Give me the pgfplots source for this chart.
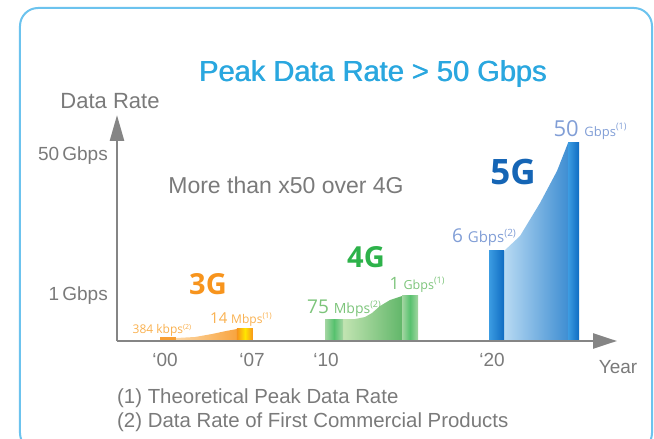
\documentclass[border=0pt]{standalone}
\usepackage{fontspec}
\setmainfont{Liberation Sans}
\newfontfamily\labfont{Open Sans}
\usepackage{pgfplots}
\pgfplotsset{compat=1.18}
\usetikzlibrary{arrows.meta}
\definecolor{txtgray}{HTML}{7A7A7A}
\definecolor{axgray}{HTML}{858585}
\definecolor{titleblue}{HTML}{2AA7DF}
\definecolor{frameblue}{HTML}{6CC3EE}
\definecolor{fiveblue}{HTML}{1565B5}
\definecolor{fivebar}{HTML}{0F6CC2}
\definecolor{fivebarl}{HTML}{3C9CE2}
\definecolor{fivefl}{HTML}{B8DAF3}
\definecolor{fivefr}{HTML}{3F8ED2}
\definecolor{fivelab}{HTML}{819ED6}
\definecolor{fourgreen}{HTML}{2DB24A}
\definecolor{fourlab}{HTML}{7CC47A}
\definecolor{fourfl}{HTML}{C2E4B2}
\definecolor{fourfr}{HTML}{62B76A}
\definecolor{threeor}{HTML}{F7941D}
\definecolor{threelab}{HTML}{F9B04E}
\newcommand{\fs}[1]{\fontsize{#1}{#1}\selectfont}
\begin{document}
\begin{tikzpicture}
\begin{axis}[
  x=1pt, y=1pt,
  xmin=117, xmax=617, ymin=0, ymax=226,
  axis lines=left,
  axis line style={draw=axgray, line width=2.6pt},
  every outer x axis line/.append style={-{Triangle[length=24pt,width=15pt]}},
  every outer y axis line/.append style={-{Triangle[length=26pt,width=14pt]}},
  xtick={165,252,326,492},
  xticklabels={‘00,‘07,‘10,‘20},
  ytick={45,185},
  yticklabels={1\,Gbps,50\,Gbps},
  major tick length=0pt,
  tick label style={font=\fs{19}, text=txtgray, inner sep=0pt},
  xticklabel style={anchor=center, yshift=-19pt},
  yticklabel style={anchor=east, xshift=-9pt},
  clip=false,
  axis on top,
]
% ---- 3G ----
\addplot[draw=none, left color=threelab!50, right color=threeor!85] coordinates {(176,3) (195,4) (212,7) (226,10) (237,12)} \closedcycle;
\addplot[draw=none, fill=threeor!90] coordinates {(160,4) (176,4)} \closedcycle;
\addplot[draw=none, left color=threeor, right color=threeor, middle color=yellow!80!orange] coordinates {(237,13) (253,13)} \closedcycle;
% ---- 4G ----
\addplot[draw=none, left color=fourfl, right color=fourfr] coordinates {(343,22) (355,22) (365,24) (372,28) (380,35) (390,41) (402,45)} \closedcycle;
\addplot[draw=none, left color=fourlab!70, right color=fourlab!70, middle color=fourgreen!80] coordinates {(325,22) (343,22)} \closedcycle;
\addplot[draw=none, left color=fourlab!70, right color=fourlab!70, middle color=fourgreen!80] coordinates {(402,45) (418,45)} \closedcycle;
% ---- 5G ----
\addplot[draw=none, left color=fivefl, right color=fivefr] coordinates {(504,90) (520,105) (540,138) (557,170) (568,198)} \closedcycle;
\addplot[draw=none, left color=fivebarl, right color=fivebar] coordinates {(489,90) (504,90)} \closedcycle;
\addplot[draw=none, left color=fivebarl, right color=fivebar] coordinates {(568,198) (579,198)} \closedcycle;
% ---- texts ----
\node[font=\fs{29}, text=titleblue] at (axis cs:372.7,267) {Peak Data Rate > 50 Gbps};
\node[font=\fs{29}, text=titleblue] at (axis cs:373.4,267) {Peak Data Rate > 50 Gbps};
\node[font=\fs{22}, text=txtgray] at (axis cs:110,240) {Data Rate};
\node[font=\fs{23}, text=txtgray] at (axis cs:286,156) {More than x50 over 4G};
\node[font=\fs{19}, text=txtgray] at (axis cs:618,-26) {Year};
\node[font=\fs{20.4}, text=txtgray, anchor=west, inner sep=0pt] at (axis cs:117,-57) {(1) Theoretical Peak Data Rate};
\node[font=\fs{20.4}, text=txtgray, anchor=west, inner sep=0pt] at (axis cs:117,-81) {(2) Data Rate of First Commercial Products};
\node[font=\labfont\bfseries\fs{29}, text=threeor] at (axis cs:208,57) {3G};
\node[font=\labfont\bfseries\fs{29}, text=fourgreen] at (axis cs:366,84) {4G};
\node[font=\labfont\bfseries\fs{35}, text=fiveblue] at (axis cs:513,169) {5G};
\node[font=\labfont, text=threelab, inner sep=0pt] at (axis cs:162,11) {\fs{12}384 kbps\raisebox{4pt}{\fs{7}(2)}};
\node[font=\labfont, text=threelab, inner sep=0pt] at (axis cs:241,21) {\fs{15}14 {\fs{12}Mbps}\raisebox{5pt}{\fs{8}(1)}};
\node[font=\labfont, text=fourlab, inner sep=0pt] at (axis cs:344,33) {\fs{19}75 {\fs{14}Mbps}\raisebox{6pt}{\fs{9}(2)}};
\node[font=\labfont, text=fourlab, inner sep=0pt] at (axis cs:417,56) {\fs{17}1 {\fs{12.5}Gbps}\raisebox{6pt}{\fs{9}(1)}};
\node[font=\labfont, text=fivelab, inner sep=0pt] at (axis cs:484,104) {\fs{19}6 {\fs{15}Gbps}\raisebox{6pt}{\fs{10}(2)}};
\node[font=\labfont, text=fivelab, inner sep=0pt] at (axis cs:590,211) {\fs{22}50 {\fs{13}Gbps}\raisebox{7pt}{\fs{9}(1)}};
% frame
\draw[frameblue, line width=2pt, rounded corners=18pt] (axis cs:20,333) rectangle (axis cs:652,-110);
\coordinate (BL) at (axis cs:0,-98);
\coordinate (TR) at (axis cs:654,341);
\end{axis}
\pgfresetboundingbox
\useasboundingbox (BL) rectangle (TR);
\end{tikzpicture}
\end{document}
